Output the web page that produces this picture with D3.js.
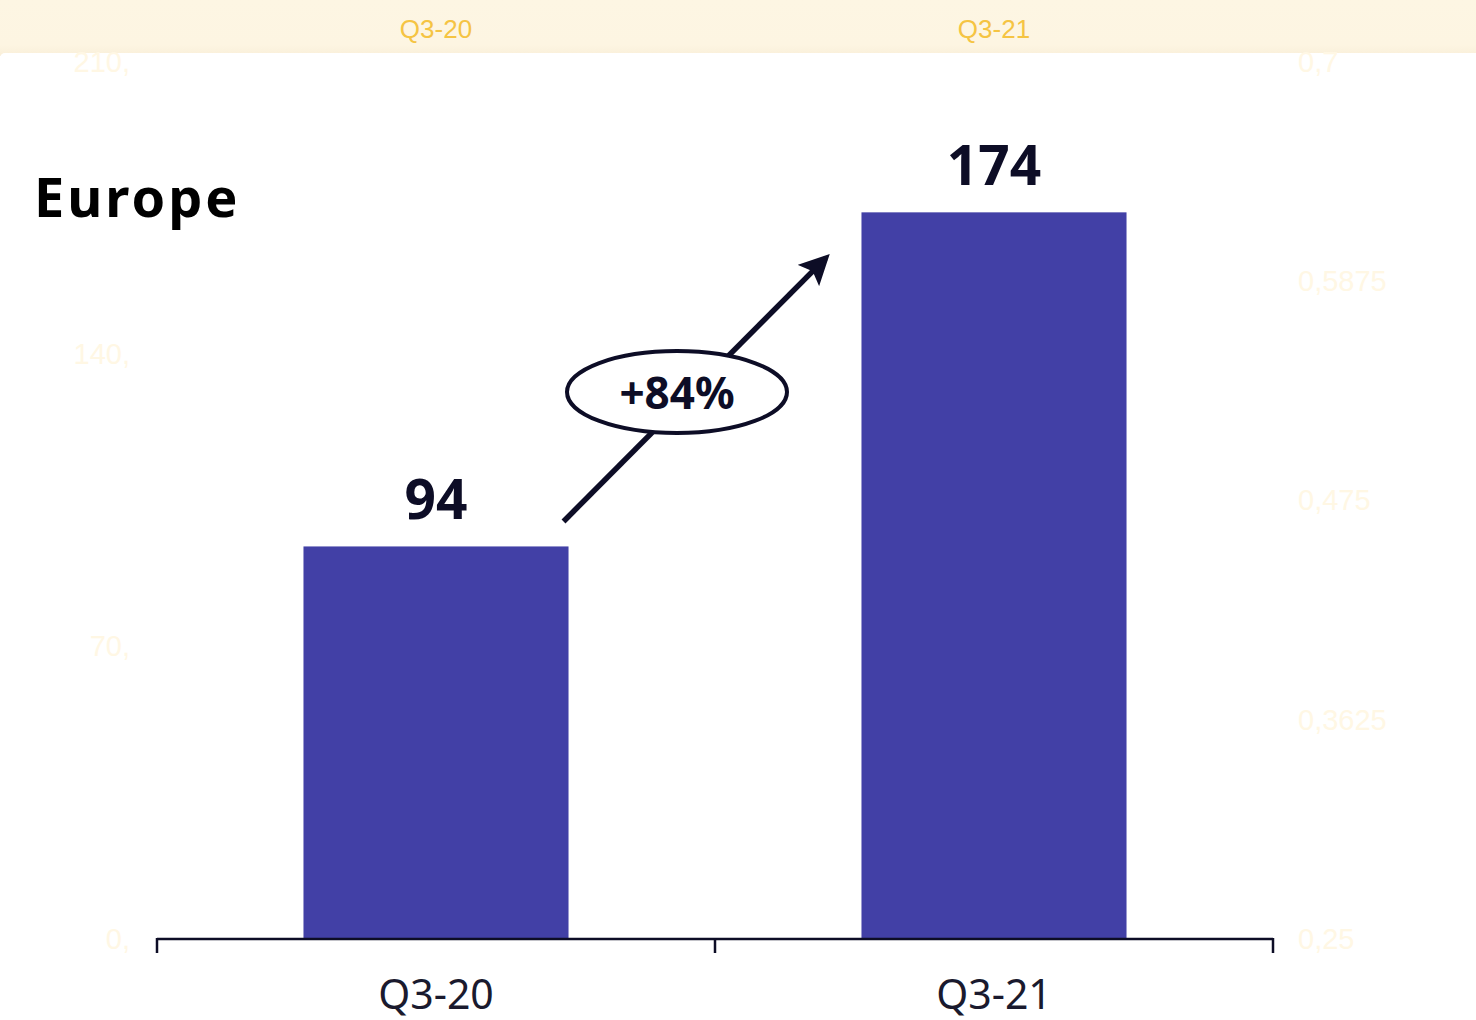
<!DOCTYPE html>
<html>
<head>
<meta charset="utf-8">
<script src="https://cdn.jsdelivr.net/npm/d3@7"></script>
<style>
  html, body { margin: 0; padding: 0; background: #ffffff; }
  svg { display: block; }
</style>
</head>
<body>
<svg id="chart" width="1476" height="1020"></svg>
<script>
// Quarterly figures for the region
const categories = ["Q3-20", "Q3-21"];
const values = [94, 174];
const growthLabel = "+84%";
const regionTitle = "Europe";

// Axis tick values (left: main value axis, right: secondary axis)
const leftTicks = [0, 70, 140, 210];
const leftTickLabels = ["0,", "70,", "140,", "210,"];
const rightTicks = [0.25, 0.3625, 0.475, 0.5875, 0.7];
const rightTickLabels = ["0,25", "0,3625", "0,475", "0,5875", "0,7"];

const W = 1476, H = 1020;
const svg = d3.select("#chart");

const margin = { left: 157, right: 203, top: 62, bottom: 81 };
const plotBottom = H - margin.bottom;   // 939
const plotTop = margin.top;             // 62

const x = d3.scaleBand()
  .domain(categories)
  .range([margin.left, W - margin.right])
  .paddingInner(0)
  .paddingOuter(0);

const y = d3.scaleLinear().domain([0, 210]).range([plotBottom, plotTop]);
const y2 = d3.scaleLinear().domain([0.25, 0.7]).range([plotBottom, plotTop]);

const barW = x.bandwidth() * 0.475;
const navy = "#0d0d26";

// Header strip with category labels
const defs = svg.append("defs");
const grad = defs.append("linearGradient")
  .attr("id", "hdr").attr("x1", 0).attr("y1", 0).attr("x2", 0).attr("y2", 1);
grad.append("stop").attr("offset", "0%").attr("stop-color", "#fdf6e3");
grad.append("stop").attr("offset", "80%").attr("stop-color", "#fdf5e2");
grad.append("stop").attr("offset", "100%").attr("stop-color", "#f9efd9");

svg.append("rect").attr("x", 0).attr("y", 0).attr("width", W).attr("height", 56)
  .attr("fill", "url(#hdr)");
svg.append("rect").attr("x", 0).attr("y", 53).attr("width", W + 10).attr("height", H)
  .attr("rx", 5).attr("fill", "#ffffff");

svg.append("g").selectAll("text")
  .data(categories)
  .join("text")
  .attr("x", d => x(d) + x.bandwidth() / 2)
  .attr("y", 38)
  .attr("text-anchor", "middle")
  .attr("font-family", "'Liberation Sans', Arial, sans-serif")
  .attr("font-size", 26)
  .attr("fill", "#f5c443")
  .text(d => d);

// Faint value axes
const faint = "#fff7e4";
const leftAxis = d3.axisLeft(y).tickValues(leftTicks)
  .tickFormat((d, i) => leftTickLabels[i]).tickSize(0).tickPadding(0);
const gl = svg.append("g").attr("transform", "translate(130,0)").call(leftAxis);
gl.select(".domain").remove();
gl.selectAll("text").attr("fill", faint)
  .attr("font-family", "'Liberation Sans', Arial, sans-serif").attr("font-size", 29);

const rightAxis = d3.axisRight(y2).tickValues(rightTicks)
  .tickFormat((d, i) => rightTickLabels[i]).tickSize(0).tickPadding(0);
const gr = svg.append("g").attr("transform", "translate(1298,0)").call(rightAxis);
gr.select(".domain").remove();
gr.selectAll("text").attr("fill", faint)
  .attr("font-family", "'Liberation Sans', Arial, sans-serif").attr("font-size", 29);

// Bars
svg.append("g").selectAll("rect")
  .data(values)
  .join("rect")
  .attr("x", (d, i) => x(categories[i]) + (x.bandwidth() - barW) / 2)
  .attr("y", d => y(d))
  .attr("width", barW)
  .attr("height", d => plotBottom - y(d))
  .attr("fill", "#4240a6");

// Category axis
const bottomAxis = d3.axisBottom(x).tickSize(0).tickPadding(41);
const gb = svg.append("g").attr("transform", `translate(0,${plotBottom})`).call(bottomAxis);
gb.select(".domain").remove();
gb.selectAll("text")
  .attr("font-family", "'Noto Sans', 'Open Sans', sans-serif")
  .attr("font-size", 41)
  .attr("fill", "#1a1a2e");

const boundaries = [x.range()[0], ...categories.slice(1).map(c => x(c)), x.range()[1]];
svg.append("line")
  .attr("x1", boundaries[0]).attr("x2", boundaries[boundaries.length - 1])
  .attr("y1", plotBottom).attr("y2", plotBottom)
  .attr("stroke", navy).attr("stroke-width", 2.5);
svg.append("g").selectAll("line")
  .data(boundaries)
  .join("line")
  .attr("x1", d => d).attr("x2", d => d)
  .attr("y1", plotBottom - 1).attr("y2", plotBottom + 14)
  .attr("stroke", navy).attr("stroke-width", 2.5);

// Value labels above bars
svg.append("g").selectAll("text")
  .data(values)
  .join("text")
  .attr("x", (d, i) => x(categories[i]) + x.bandwidth() / 2)
  .attr("y", d => y(d) - 27)
  .attr("text-anchor", "middle")
  .attr("font-family", "'Noto Sans', 'Open Sans', sans-serif")
  .attr("font-weight", 700)
  .attr("font-size", 55)
  .attr("fill", navy)
  .text(d => d);

// Region title
svg.append("text")
  .attr("x", 34).attr("y", 217)
  .attr("font-family", "'Noto Sans', 'Open Sans', sans-serif")
  .attr("font-weight", 700)
  .attr("font-size", 54)
  .attr("letter-spacing", 3)
  .attr("fill", "#000000")
  .text(regionTitle);

// Growth arrow between the bars
defs.append("marker")
  .attr("id", "arrowhead")
  .attr("viewBox", "0 0 10 10")
  .attr("refX", 8).attr("refY", 5)
  .attr("markerWidth", 5.5).attr("markerHeight", 5.5)
  .attr("markerUnits", "strokeWidth")
  .attr("orient", "auto")
  .append("path").attr("d", "M0,0 L10,5 L0,10 L2,5 Z").attr("fill", navy);

const x0 = x(categories[0]) + (x.bandwidth() + barW) / 2 - 5;
const y0 = y(values[0]) - 25;
const x1 = x(categories[1]) + (x.bandwidth() - barW) / 2 - 36;
const y1 = y(values[1]) + 46;

svg.append("line")
  .attr("x1", x0).attr("y1", y0).attr("x2", x1).attr("y2", y1)
  .attr("stroke", navy).attr("stroke-width", 5.5)
  .attr("marker-end", "url(#arrowhead)");

const cx = 677, cy = 392;
svg.append("ellipse")
  .attr("cx", cx).attr("cy", cy).attr("rx", 110).attr("ry", 41)
  .attr("fill", "#ffffff").attr("stroke", navy).attr("stroke-width", 4);
svg.append("text")
  .attr("x", cx).attr("y", cy + 17)
  .attr("text-anchor", "middle")
  .attr("font-family", "'Noto Sans', 'Open Sans', sans-serif")
  .attr("font-weight", 700)
  .attr("font-size", 44)
  .attr("fill", navy)
  .text(growthLabel);
</script>
</body>
</html>
